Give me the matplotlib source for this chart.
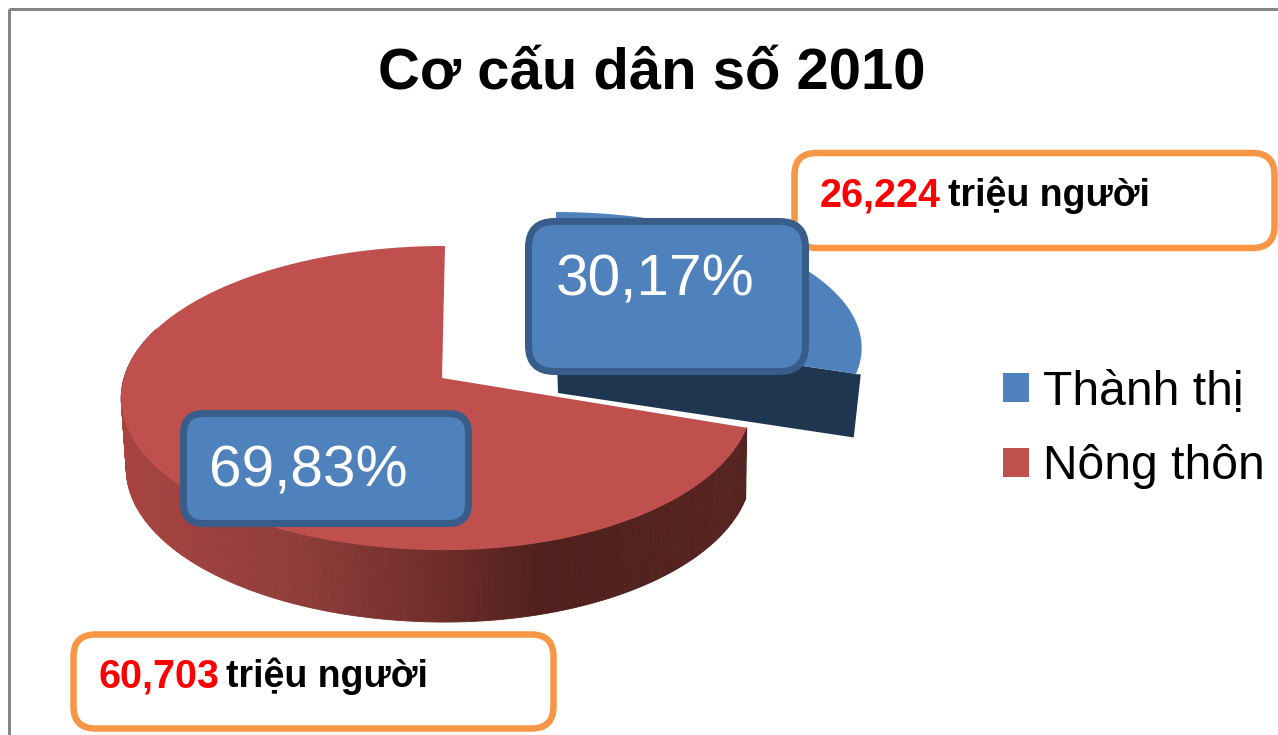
import numpy as np
import matplotlib
matplotlib.use("Agg")
import matplotlib.pyplot as plt
from matplotlib.patches import Polygon, FancyBboxPatch, Rectangle, Patch
from matplotlib.collections import PolyCollection
from matplotlib.colors import LinearSegmentedColormap

plt.rcParams['font.family'] = ['Liberation Sans', 'DejaVu Sans']

title = "Cơ cấu dân số 2010"
categories = ["Thành thị", "Nông thôn"]
shares = [30.17, 69.83]
populations = ["26,224", "60,703"]
unit = "triệu người"
colors = ["#4F81BD", "#C0504D"]

PX = 1 / 100 * 72  # points per pixel at dpi 100

fig = plt.figure(figsize=(12.78, 7.35), dpi=100, facecolor="white")
ax = fig.add_axes([0, 0, 1, 1])
ax.set_xlim(0, 1278)
ax.set_ylim(735, 0)
ax.axis("off")

ax.add_patch(Rectangle((9, 8.5), 1400, 900, fill=False, ec="#868686", lw=3 * PX, zorder=1))

PERSP = 0.1316


def rim(theta, ax0, ay0, rx_left, rx_right, k):
    """Project angles (clockwise from 12 o'clock) to the tilted pie's rim."""
    u, v = np.sin(theta), -np.cos(theta)
    d = 1 - PERSP * v
    rx = np.where(u < 0, rx_left, rx_right)
    return ax0 + u * rx / d, ay0 + v * k / d


total = sum(shares)
split = 2 * np.pi * shares[0] / total

# --- exploded slice (Thành thị)
bx, by, bk, brx, bdepth = 556, 330, 133.5, 303, 63
t_b = np.linspace(0, split, 120)
xb, yb = rim(t_b, bx, by, brx, brx, bk)
xb_end = xb[-1] + 5
ax.add_patch(Polygon([(bx, by), (xb_end, yb[-1]), (xb_end - 7, yb[-1] + bdepth), (bx + 2, by + bdepth)],
                     closed=True, fc="#1F3650", ec="none", zorder=2))
ax.add_patch(Polygon(np.r_[[[bx, by]], np.c_[xb, yb], [[xb_end, yb[-1]]]], closed=True,
                     fc=colors[0], ec="none", zorder=3))

# --- main slice (Nông thôn)
rx0, ry0, rk, rxl, rxr, rdepth = 445, 378, 149.4, 321, 305, 70
t_r = np.linspace(split, 2 * np.pi, 400)
xr, yr = rim(t_r, rx0, ry0, rxl, rxr, rk)
xl, yl = rim(t_r, rx0, ry0, rxl - 5, rxr - 1, rk)
yl = yl + rdepth + 2 * np.clip(-np.cos(t_r), 0, 1)

side_cmap = LinearSegmentedColormap.from_list(
    "side", [(0, "#A84440"), (0.28, "#8F3D3A"), (0.48, "#732F2C"),
             (0.68, "#4F201D"), (1, "#562420")])
polys, cols = [], []
for i in range(len(t_r) - 1):
    if max(yl[i], yl[i + 1]) < 400:
        continue
    polys.append([(xr[i], yr[i]), (xr[i + 1], yr[i + 1]), (xl[i + 1], yl[i + 1]), (xl[i], yl[i])])
    cols.append(side_cmap((0.5 * (xr[i] + xr[i + 1]) - 121) / (746 - 121)))
ax.add_collection(PolyCollection(polys, facecolors=cols, edgecolors=cols, linewidths=0.6, zorder=4))
ax.add_patch(Polygon(np.r_[[[rx0 - 3, ry0]], np.c_[xr, yr]], closed=True, fc=colors[1], ec="none", zorder=5))


def box(x0, y0, x1, y1, r, fc, ec, lw):
    ax.add_patch(FancyBboxPatch((x0, y0), x1 - x0, y1 - y0,
                                boxstyle=f"round,pad=0,rounding_size={r}",
                                fc=fc, ec=ec, lw=lw * PX, zorder=6))


# --- orange callouts
orange = "#F79646"
box(794.5, 153, 1274.5, 248, 22, "white", orange, 6.5)
box(73.5, 634.5, 553.5, 728.5, 22, "white", orange, 6.5)

num_px, unit_px = 39.5, 37.5
for (xn, xu, yt), pop in zip([(820, 948, 195), (98, 226, 676)], populations):
    ax.text(xn, yt, pop, color="#FF0000", fontsize=num_px * PX, fontweight="bold", va="center", zorder=8)
    ax.text(xu, yt, unit, color="black", fontsize=unit_px * PX, fontweight="bold", va="center", zorder=8)

# --- percentage boxes
box(528.5, 221.5, 805.5, 371.5, 26, colors[0], "#385D8A", 7)
box(183.5, 413.5, 468.5, 523.5, 20, colors[0], "#385D8A", 7)
pct_px = 58.5
for (xt, yt), s in zip([(556, 280), (209, 471)], shares):
    ax.text(xt, yt, f"{s:.2f}%".replace(".", ","), color="white", fontsize=pct_px * PX,
            va="center", zorder=8)

# --- title
ax.text(652, 73, title, color="black", fontsize=58 * PX, fontweight="bold",
        ha="center", va="center", zorder=8)

# --- legend
handles = [Patch(fc=c, ec="none") for c in colors]
leg_px = 48
ax.legend(handles, categories, loc="upper left", bbox_to_anchor=(993 / 1278, 1 - 360 / 735),
          frameon=False, fontsize=leg_px * PX, handlelength=0.56, handleheight=0.56,
          handletextpad=0.29, labelspacing=0.62, borderpad=0.2, borderaxespad=0)

fig.savefig("out.png", dpi=100)
